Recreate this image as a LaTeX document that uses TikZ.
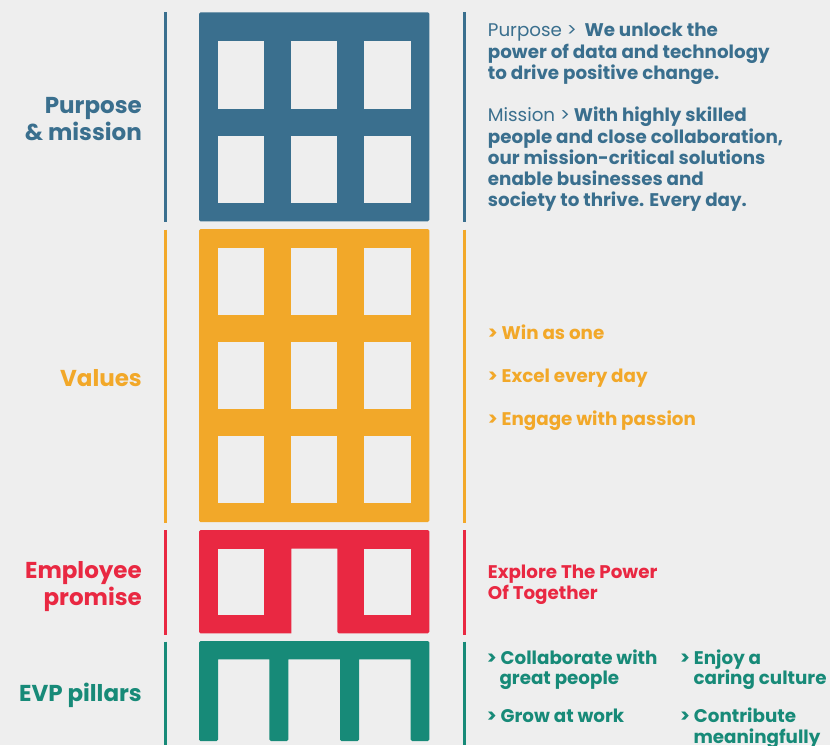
\documentclass[tikz,border=0pt]{standalone}
\usepackage{fontspec}
\setmainfont{Poppins}
\definecolor{bg}{HTML}{EEEEEE}
\definecolor{cblue}{HTML}{3A6F8E}
\definecolor{corange}{HTML}{F2A829}
\definecolor{cred}{HTML}{E92842}
\definecolor{cgreen}{HTML}{178A78}
\tikzset{
  lbl/.style={anchor=base east, inner sep=0pt, font=\fontsize{23}{23}\selectfont\bfseries},
  txt/.style={anchor=base west, inner sep=0pt, font=\fontsize{18.3}{18.3}\selectfont\bfseries},
  bar/.style={line width=3pt},
  win/.style={fill=bg},
}
\begin{document}
\begin{tikzpicture}[x=1pt,y=-1pt]
\fill[bg] (0,0) rectangle (830,745);
\useasboundingbox (0,0) rectangle (830,745);

% ---- side rules
\draw[bar,cblue]   (165,12) -- (165,222);
\draw[bar,corange] (165,229.5) -- (165,523);
\draw[bar,cred]    (165,530) -- (165,635);
\draw[bar,cgreen]  (165,641.5) -- (165,745);
\draw[bar,cblue]   (464.5,12) -- (464.5,222);
\draw[bar,corange] (464.5,229.5) -- (464.5,523);
\draw[bar,cred]    (464.5,530) -- (464.5,635);
\draw[bar,cgreen]  (464.5,641.5) -- (464.5,745);

% ---- top floor: purpose & mission
\fill[cblue, rounded corners=1.5pt] (199,12.3) rectangle (429.3,221.3);
\foreach \x in {218,291,364.3}
  \foreach \y/\h in {41.3/108.7,136/202.7}
    \fill[win] (\x,\y) rectangle (\x+46.4,\h);

% ---- values floors
\fill[corange, rounded corners=1.5pt] (199,229) rectangle (429.3,522);
\foreach \x in {218,291,364.3}
  \foreach \y/\h in {247.7/314.7,342/408.7,436.3/503.3}
    \fill[win] (\x,\y) rectangle (\x+46.4,\h);

% ---- employee promise: entrance floor
\fill[cred, rounded corners=1.5pt] (199,530) -- (429.3,530) -- (429.3,633.3)
  -- (337.3,633.3) [sharp corners] -- (337.3,548.7) -- (291.3,548.7)
  -- (291.3,633.3) [rounded corners=1.5pt] -- (199,633.3) -- cycle;
\fill[win] (218,548.7) rectangle (264.4,615);
\fill[win] (364.3,548.7) rectangle (410.7,615);

% ---- EVP pillars: ground floor
\fill[cgreen, rounded corners=1.5pt] (199,641) -- (429.3,641) -- (429.3,741) -- (410.7,741)
  [sharp corners] -- (410.7,659.3) -- (359,659.3) [rounded corners=1.5pt] -- (359,741) -- (340,741)
  [sharp corners] -- (340,659.3) -- (288.3,659.3) [rounded corners=1.5pt] -- (288.3,741) -- (269.3,741)
  [sharp corners] -- (269.3,659.3) -- (218,659.3) [rounded corners=1.5pt] -- (218,741) -- (199,741) -- cycle;

% ---- left labels
\node[lbl, text=cblue] (pm1) at (142,113.3) {Purpose};
\node[lbl, text=cblue] (pm2) at (142,140) {\& mission};
\node[lbl, text=corange] (va) at (142,386) {Values};
\node[lbl, text=cred] (ep1) at (142,578.3) {Employee};
\node[lbl, text=cred] (ep2) at (142,605) {promise};
\node[lbl, text=cgreen] (evp) at (142,701) {EVP pillars};

% ---- purpose & mission text
\begin{scope}[every node/.style={txt, text=cblue}]
\node (pu1) at (487.7,36.7) {{\mdseries Purpose >}\ \ We unlock the};
\node (pu2) at (487.7,58) {power of data and technology};
\node (pu3) at (487.7,79.3) {to drive positive change.};
\node (mi1) at (487.7,121.7) {{\mdseries Mission >} With highly skilled};
\node (mi2) at (487.7,143) {people and close collaboration,};
\node (mi3) at (487.7,164.3) {our mission-critical solutions};
\node (mi4) at (487.7,185.6) {enable businesses and};
\node (mi5) at (487.7,206.9) {society to thrive. Every day.};
\end{scope}

% ---- values list
\begin{scope}[every node/.style={txt, text=corange}]
\node (v1) at (487.7,339.3) {> Win as one};
\node (v2) at (487.7,382.7) {> Excel every day};
\node (v3) at (487.7,425) {> Engage with passion};
\end{scope}

% ---- employee promise text
\begin{scope}[every node/.style={txt, text=cred}]
\node (pr1) at (487.7,578.3) {Explore The Power};
\node (pr2) at (487.7,599) {Of Together};
\end{scope}

% ---- EVP pillars list
\begin{scope}[every node/.style={txt, text=cgreen}]
\node (e1a) at (486.7,664) {> Collaborate with};
\node (e1b) at (499.3,684) {great people};
\node (e2a) at (680,664) {> Enjoy a};
\node (e2b) at (693.3,684) {caring culture};
\node (e3a) at (486.7,722.7) {> Grow at work};
\node (e4a) at (680,722.7) {> Contribute};
\node (e4b) at (693.3,743) {meaningfully};
\end{scope}
\end{tikzpicture}
\end{document}
